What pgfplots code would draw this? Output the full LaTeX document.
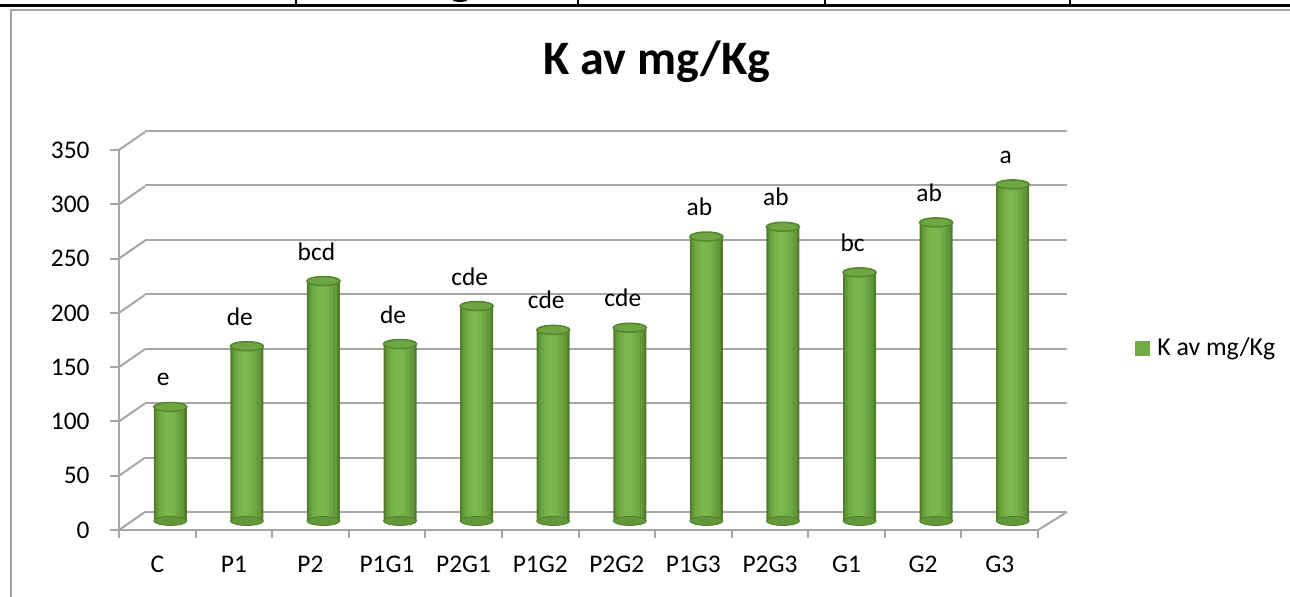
\documentclass[border=0pt]{standalone}
\usepackage{fontspec}
\setmainfont{Carlito}
\usepackage{pgfplots}
\pgfplotsset{compat=1.18}
\usepackage{pgfplotstable}

\definecolor{g1}{RGB}{80,126,44}
\definecolor{g2}{RGB}{98,152,57}
\definecolor{g3}{RGB}{109,167,66}
\definecolor{g4}{RGB}{117,177,72}
\definecolor{g5}{RGB}{122,183,77}
\definecolor{gTop}{RGB}{110,167,66}
\definecolor{gRim}{RGB}{86,134,48}
\definecolor{gLeg}{RGB}{112,173,71}
\definecolor{gridc}{RGB}{166,166,166}
\definecolor{framec}{RGB}{165,165,165}

\pgfplotstableread{
x y base lab
0 105 0 e
1 161 0 de
2 221 0 bcd
3 163 0 de
4 198 0 cde
5 176 0 cde
6 178 0 cde
7 262 0 ab
8 271 0 ab
9 229 0 bc
10 275 0 ab
11 310 0 a
}\datatable

\begin{document}
\begin{tikzpicture}[x=1pt,y=1pt]
\useasboundingbox (0,0) rectangle (645,298.5);
% page decorations above the chart
\fill[black] (0,296.5) rectangle (645,295);
\foreach \xx in {296,578,825,1070} \draw[line width=1pt] (\xx*0.5,299) -- (\xx*0.5,296);
\draw[line width=1pt] (226.5,298.8) .. controls (227.5,297.7) and (232.5,297.7) .. (233.5,298.8);
% chart frame
\draw[framec, line width=1pt] (5.5,-1) -- (5.5,293.5) -- (646,293.5);

% back wall grid
\begin{axis}[scale only axis, width=461pt, height=190.5pt, at={(72.5pt,42.5pt)}, anchor=south west,
  xmin=-0.5, xmax=11.5, ymin=0, ymax=350,
  axis line style={draw=none}, tick style={draw=none},
  xtick=\empty, ytick={0,50,...,350}, yticklabels={},
  ymajorgrids, grid style={gridc, line width=1pt}]
\end{axis}
% side wall and floor connectors
\foreach \v in {0,1,...,7} \draw[gridc, line width=1pt] (59.5,33.5+\v*27.142857) -- ++(13,9);
\draw[gridc, line width=1pt] (519,33.5) -- ++(14.5,9);

% cylinders at mid depth
\begin{axis}[scale only axis, width=459.5pt, height=190pt, at={(66pt,38pt)}, anchor=south west,
  xmin=-0.5, xmax=11.5, ymin=0, ymax=350, clip=false,
  axis line style={draw=none}, tick style={draw=none},
  xtick=\empty, ytick=\empty,
  legend style={draw=none, fill=none, inner sep=0pt, anchor=west, at={(1.0914,0.455)},
    font=\fontsize{12.9}{15}\selectfont, nodes={inner sep=0pt},
    /tikz/every odd column/.append style={column sep=3.5pt}}]
\addplot[only marks, mark=*, mark size=8.25pt, mark options={yscale=0.27, fill=g2, draw=g1}, forget plot]
  table[x=x, y=base]{\datatable};
\addplot[ybar, bar width=16.5pt, bar shift=0pt, draw=none, fill=g1,
  legend image code/.code={\fill[gLeg] (0pt,-3.75pt) rectangle (7.5pt,3.75pt);},
  nodes near coords, point meta=explicit symbolic,
  every node near coord/.append style={anchor=base, yshift=10.5pt, xshift=-3.5pt, inner sep=0pt,
    font=\fontsize{12.7}{15}\selectfont, text=black}]
  table[x=x, y=y, meta=lab]{\datatable};
\addlegendentry{K av mg/Kg}
\addplot[ybar, bar width=14.2pt, bar shift=-0.15pt, draw=none, fill=g2, forget plot] table[x=x, y=y]{\datatable};
\addplot[ybar, bar width=11pt, bar shift=-0.5pt, draw=none, fill=g3, forget plot] table[x=x, y=y]{\datatable};
\addplot[ybar, bar width=7.5pt, bar shift=-0.75pt, draw=none, fill=g4, forget plot] table[x=x, y=y]{\datatable};
\addplot[ybar, bar width=4pt, bar shift=-0.75pt, draw=none, fill=g5, forget plot] table[x=x, y=y]{\datatable};
\addplot[only marks, mark=*, mark size=8.25pt, mark options={yscale=0.27, fill=gTop, draw=gRim, line width=0.8pt}, forget plot]
  table[x=x, y=y]{\datatable};
\end{axis}

% front axes
\begin{axis}[scale only axis, width=459.5pt, height=190pt, at={(59.5pt,33.5pt)}, anchor=south west,
  xmin=-0.5, xmax=11.5, ymin=0, ymax=350,
  axis x line*=bottom, axis y line*=left,
  axis line style={gridc, line width=1pt},
  tick align=outside,
  ytick={0,50,...,350}, major tick length=4.5pt,
  y tick style={gridc, line width=1pt},
  xtick={0,...,11},
  xticklabels={C,P1,P2,P1G1,P2G1,P1G2,P2G2,P1G3,P2G3,G1,G2,G3},
  major x tick style={draw=none},
  minor xtick={-0.5,0.5,...,11.5}, minor tick length=4pt,
  minor x tick style={gridc, line width=1pt},
  /pgf/number format/assume math mode=true,
  yticklabel style={font=\fontsize{12.7}{15}\selectfont, anchor=east, inner sep=0pt},
  yticklabel shift=10pt,
  xticklabel style={font=\fontsize{12.7}{15}\selectfont, anchor=base, inner sep=0pt},
  xticklabel shift=17pt,
  every axis title shift=0pt,
  title={K av mg/Kg},
  title style={at={(axis description cs:0.5854,1.1974)}, anchor=base, inner sep=0pt,
    font=\bfseries\fontsize{24}{29}\selectfont}]
\end{axis}
\end{tikzpicture}
\end{document}
